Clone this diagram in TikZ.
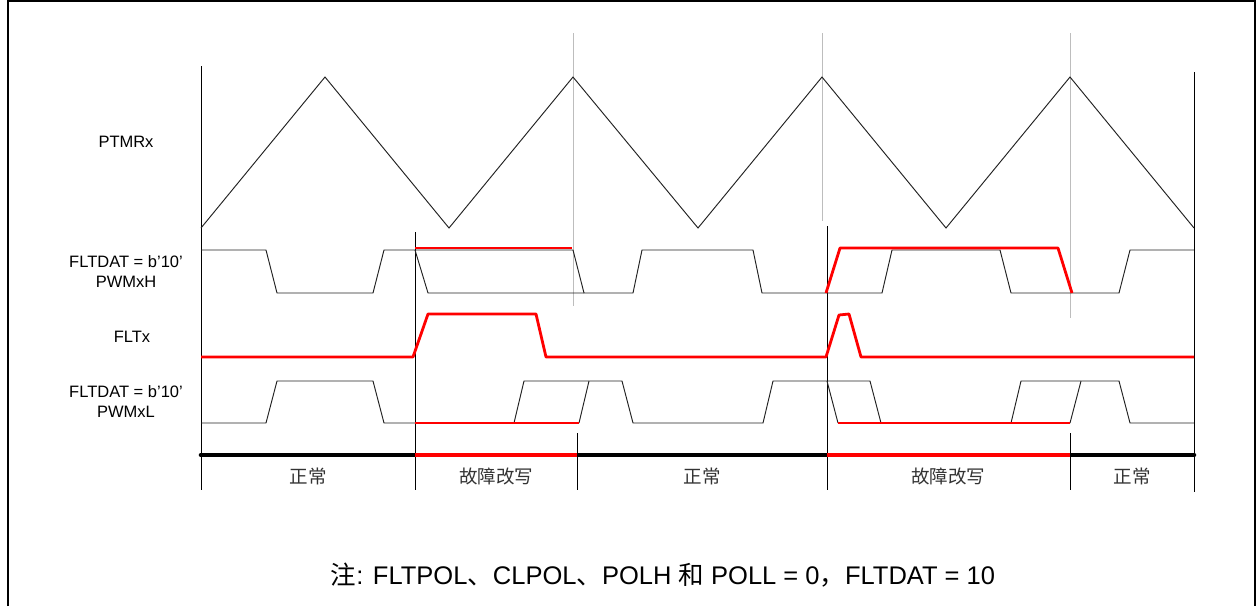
\documentclass[tikz,border=0pt]{standalone}
\usepackage{fontspec}
\setmainfont{Liberation Sans}
\newfontfamily\cjk{Noto Sans CJK SC}
\usepackage{xcolor}
\definecolor{Fault}{HTML}{FF0000}
\definecolor{Trace}{HTML}{222222}
\definecolor{Guide}{HTML}{BDBDBD}
\usepackage{tikz}
\tikzset{
  wave/.style={draw=Trace,line width=0.95pt,line join=miter},
  faultwave/.style={draw=Fault,line width=2.8pt,line join=round},
  guide/.style={draw=Guide,line width=0.9pt},
  marker/.style={draw=black,line width=0.8pt},
  bar/.style={line width=4.6pt,line cap=round},
  lbl/.style={font=\fontsize{16.5}{20}\selectfont,align=center,inner sep=0pt},
  phase/.style={font=\cjk\fontsize{18.5}{20}\selectfont,text=black!80,inner sep=0pt},
  note/.style={font=\fontsize{25.5}{28}\selectfont,inner sep=0pt}
}
\begin{document}
\begin{tikzpicture}[x=1pt,y=-1pt]
  \useasboundingbox (0,0) rectangle (1258,606);
  % frame
  \draw[line width=2pt] (7.5,606) -- (7.5,1) -- (1254.5,1) -- (1254.5,606);

  % signal names
  \node[lbl] (ptmr) at (126,142) {PTMRx};
  \node[lbl] (pwmh) at (126,272) {FLTDAT = b'10'\\PWMxH};
  \node[lbl] (fltx) at (132,337) {FLTx};
  \node[lbl] (pwml) at (126,402) {FLTDAT = b'10'\\PWMxL};

  % guides at the timer peaks
  \draw[guide] (573,33) -- (573,306);
  \draw[guide] (822,33) -- (822,221);
  \draw[guide] (1070,33) -- (1070,318);

  % phase markers
  \draw[marker] (201,66) -- (201,490);
  \draw[marker] (415,232) -- (415,490);
  \draw[marker] (577,433) -- (577,490);
  \draw[marker] (827,226) -- (827,490);
  \draw[marker] (1070,433) -- (1070,490);
  \draw[marker] (1194,72) -- (1194,492);

  % PTMRx
  \draw[wave] (201,228) -- (325,77) -- (449,228) -- (573,77) -- (698,228)
    -- (822,77) -- (946,228) -- (1070,77) -- (1194,228);

  % PWMxH
  \draw[wave] (201,250) -- (266,250) -- (277,293) -- (373,293) -- (384,250)
    -- (573,250) -- (584,293) -- (633,293) -- (642,250) -- (753,250)
    -- (762,293) -- (882,293) -- (892,250) -- (1000,250) -- (1011,293)
    -- (1119,293) -- (1130,250) -- (1194,250);
  \draw[wave] (415,250) -- (428,293) -- (584,293);
  \draw[faultwave] (415,248) -- (572,248);
  \draw[faultwave] (826,293) -- (840,248) -- (1058,248) -- (1072,293);

  % FLTx
  \draw[faultwave] (201,357) -- (413,357) -- (428,314) -- (536,314) -- (546,357)
    -- (826,357) -- (839,315) -- (849,314) -- (861,357) -- (1194,357);

  % PWMxL
  \draw[wave] (201,423) -- (266,423) -- (277,381) -- (373,381) -- (384,423)
    -- (514,423) -- (524,381) -- (622,381) -- (633,423) -- (763,423)
    -- (773,381) -- (870,381) -- (881,423) -- (1011,423) -- (1021,381)
    -- (1119,381) -- (1130,423) -- (1194,423);
  \draw[wave] (579,423) -- (589,381);
  \draw[wave] (827,381) -- (838,423);
  \draw[wave] (1070,423) -- (1081,381);
  \draw[faultwave] (415,423) -- (579,423);
  \draw[faultwave] (838,423) -- (1070,423);

  % state bar
  \draw[bar,black] (201,455) -- (415,455);
  \draw[bar,black] (577,455) -- (827,455);
  \draw[bar,black] (1070,455) -- (1194,455);
  \draw[bar,Fault,line cap=butt] (415,455) -- (577,455);
  \draw[bar,Fault,line cap=butt] (827,455) -- (1070,455);

  \node[phase] (p1) at (308,476) {正常};
  \node[phase] (p2) at (496,476) {故障改写};
  \node[phase] (p3) at (702,476) {正常};
  \node[phase] (p4) at (948,476) {故障改写};
  \node[phase] (p5) at (1132,476) {正常};

  % note
  \node[note] (note) at (663,575)
    {{\cjk 注}: FLTPOL{\cjk 、}CLPOL{\cjk 、}POLH {\cjk 和} POLL = 0{\cjk ，}FLTDAT = 10};
\end{tikzpicture}
\end{document}
